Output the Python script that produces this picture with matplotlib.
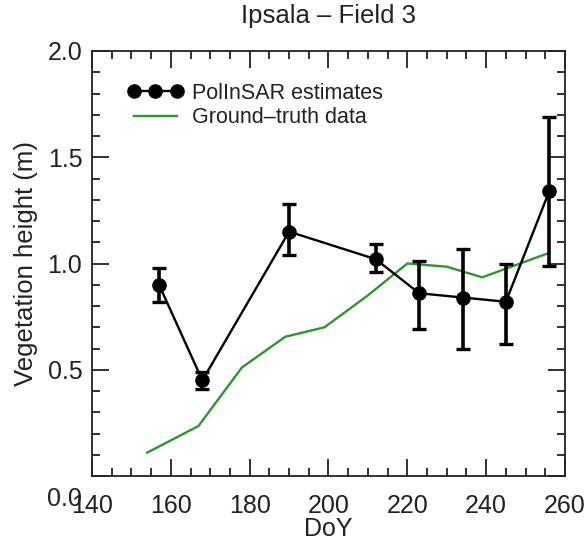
import matplotlib
matplotlib.use("Agg")
import matplotlib.pyplot as plt
from matplotlib.ticker import MultipleLocator
import matplotlib.transforms as mtrans

plt.rcParams['font.family'] = ['Liberation Sans', 'DejaVu Sans']

# PolInSAR estimates
doy_est = [157, 168, 190, 212, 223, 234, 245, 256]
h_est = [0.90, 0.45, 1.15, 1.02, 0.86, 0.84, 0.82, 1.34]
err_low = [0.82, 0.41, 1.04, 0.96, 0.69, 0.60, 0.62, 0.99]
err_high = [0.98, 0.49, 1.28, 1.09, 1.01, 1.07, 1.00, 1.69]

# Ground-truth data
doy_gt = [154, 167, 178, 189, 199, 210, 220, 230, 239, 256]
h_gt = [0.11, 0.235, 0.51, 0.655, 0.70, 0.85, 1.00, 0.985, 0.935, 1.05]

yerr = [[h - lo for h, lo in zip(h_est, err_low)],
        [hi - h for h, hi in zip(h_est, err_high)]]

fig = plt.figure(figsize=(5.85, 5.43), dpi=100)
ax = fig.add_axes([92/585, 1-476/543, (565-92)/585, (476-51)/543])

green, = ax.plot(doy_gt, h_gt, color='#2e962e', lw=1.7, label='Ground\u2013truth data', zorder=2)
ax.errorbar(doy_est, h_est, yerr=yerr, fmt='none', ecolor='black', elinewidth=2.6,
            capsize=5, capthick=2.4, zorder=3)
est, = ax.plot(doy_est, h_est, color='black', lw=1.7, marker='o', markersize=9.5,
               label='PolInSAR estimates', zorder=4)

ax.set_xlim(140, 260)
ax.set_ylim(0, 2.0)
ax.xaxis.set_major_locator(MultipleLocator(20))
ax.xaxis.set_minor_locator(MultipleLocator(5))
ax.yaxis.set_major_locator(MultipleLocator(0.5))
ax.yaxis.set_minor_locator(MultipleLocator(0.1))
ax.tick_params(which='both', direction='in', top=True, right=True, width=1.3,
               labelsize=18, colors='#222222')
ax.tick_params(which='major', length=12)
ax.tick_params(which='minor', length=6)
ax.tick_params(axis='x', pad=13)
ax.tick_params(axis='y', pad=7)
ax.yaxis.set_major_formatter(matplotlib.ticker.FormatStrFormatter('%.1f'))
for s in ax.spines.values():
    s.set_linewidth(1.3)
    s.set_color('#222222')

ax.set_xlabel('DoY', fontsize=18, color='#222222', labelpad=-1)
ax.set_ylabel('Vegetation height (m)', fontsize=18.5, color='#222222', labelpad=7)
ax.set_title('Ipsala \u2013 Field 3', fontsize=18.5, color='#222222', pad=20)

leg = ax.legend(handles=[est, green], loc='upper left', bbox_to_anchor=(0.075, 0.925),
                frameon=False, fontsize=15.5, numpoints=3, handlelength=2.6,
                handletextpad=0.4, labelspacing=0.15, borderpad=0, borderaxespad=0)
for t in leg.get_texts():
    t.set_color('#222222')

fig.canvas.draw()
offset = mtrans.ScaledTranslation(0, -20/100, fig.dpi_scale_trans)
for lab in ax.get_yticklabels():
    if lab.get_text() == '0.0':
        lab.set_transform(lab.get_transform() + offset)

fig.savefig('out.png', dpi=100)
